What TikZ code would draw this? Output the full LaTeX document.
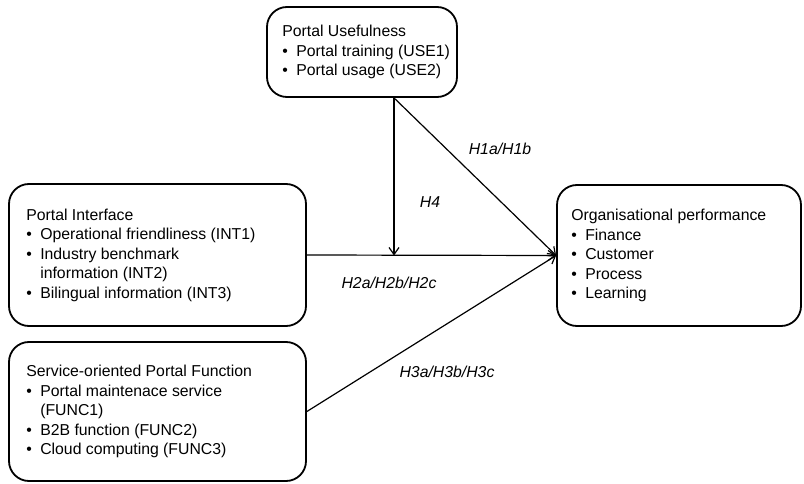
\documentclass[tikz,border=0pt]{standalone}
\usepackage{fontspec}
\setmainfont{Liberation Sans}
\usetikzlibrary{arrows.meta}
\newcommand{\itm}[1]{\makebox[14pt][l]{\textbullet}#1}
\newcommand{\cont}[1]{\hspace*{14pt}#1}
\begin{document}
\begin{tikzpicture}[x=1pt,y=-1pt,
  box/.style={draw, line width=1.8pt, rounded corners=20pt, inner sep=0pt},
  txt/.style={anchor=west, align=left, inner sep=0pt, font=\fontsize{15.8}{19.5}\selectfont},
  lbl/.style={font=\fontsize{15.8}{19}\selectfont\itshape, inner sep=0pt},
  conn/.style={line width=1.2pt},
  arr/.style={conn, -{Straight Barb[length=7pt,width=10pt,line width=1.2pt]}}]
\useasboundingbox (0,0) rectangle (804,484);
\node[box, minimum width=190pt, minimum height=90pt] (use) at (362,52) {};
\node[txt] (usetxt) at ([xshift=16pt]use.west) {Portal Usefulness\\ \itm{Portal training (USE1)}\\ \itm{Portal usage (USE2)}};
\node[box, minimum width=297pt, minimum height=142pt] (int) at (157.5,255) {};
\node[txt] (inttxt) at ([xshift=18pt]int.west) {Portal Interface\\ \itm{Operational friendliness (INT1)}\\ \itm{Industry benchmark}\\ \cont{information (INT2)}\\ \itm{Bilingual information (INT3)}};
\node[box, minimum width=297pt, minimum height=139pt] (func) at (157.5,411.5) {};
\node[txt] (functxt) at ([xshift=18pt]func.west) {Service-oriented Portal Function\\ \itm{Portal maintenace service}\\ \cont{(FUNC1)}\\ \itm{B2B function (FUNC2)}\\ \itm{Cloud computing (FUNC3)}};
\node[box, minimum width=244pt, minimum height=141pt] (org) at (679,255.5) {};
\node[txt] (orgtxt) at ([xshift=15pt]org.west) {Organisational performance\\ \itm{Finance}\\ \itm{Customer}\\ \itm{Process}\\ \itm{Learning}};
\coordinate (usefoot) at ([xshift=32pt]use.south);
\coordinate (mod) at (usefoot |- org.west);
\draw[arr] (usefoot) -- (org.west);
\draw[arr] (int.east) -- (org.west);
\draw[arr] (func.east) -- (org.west);
\draw[arr] (usefoot) -- (mod);
\node[lbl] (h1) at (500,149) {H1a/H1b};
\node[lbl] (h4) at (430,202) {H4};
\node[lbl] (h2) at (389,283) {H2a/H2b/H2c};
\node[lbl] (h3) at (447,372) {H3a/H3b/H3c};
\end{tikzpicture}
\end{document}
